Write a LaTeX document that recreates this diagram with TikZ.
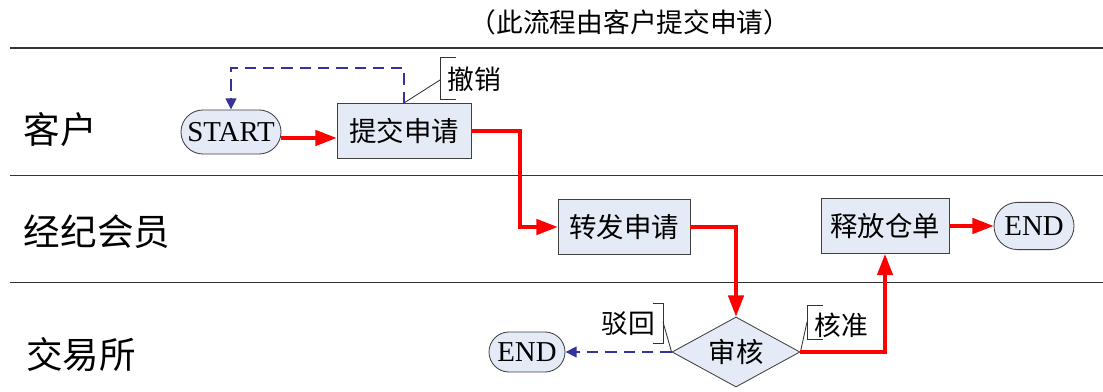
\documentclass[tikz,border=0pt]{standalone}
\usepackage{fontspec}
\setmainfont{Liberation Serif}
\newfontfamily\cjk{Noto Sans CJK SC}
\usetikzlibrary{arrows.meta,shapes.geometric,shapes.misc,positioning}

\definecolor{boxfill}{RGB}{228,235,246}
\definecolor{backblue}{RGB}{51,51,153}

\tikzset{
	box/.style={draw=black!75, fill=boxfill, line width=0.6pt, inner sep=0pt,
		minimum width=3.35cm, minimum height=1.38cm, font=\cjk\fontsize{19.5}{19.5}\selectfont},
	term/.style={draw=black!75, fill=boxfill, line width=0.6pt, rounded rectangle, inner sep=0pt,
		minimum height=1.1cm, font=\fontsize{20.5}{20.5}\selectfont},
	check/.style={draw=black!75, fill=boxfill, line width=0.6pt, diamond, aspect=1.8, inner sep=0pt,
		minimum width=3.2cm, minimum height=1.75cm, font=\cjk\fontsize{19.5}{19.5}\selectfont},
	lane/.style={font=\cjk\fontsize{26}{26}\selectfont},
	note/.style={font=\cjk\fontsize{19}{19}\selectfont},
	go/.style={draw=red, line width=2.2pt, -{Triangle[length=15pt,width=11pt]}},
	back/.style={draw=backblue, line width=1.9pt, dash pattern=on 8pt off 5pt,
		-{Triangle[length=8pt,width=7.5pt]}},
	bracket/.style={draw=black!80, line width=0.6pt}
}

\begin{document}
\begin{tikzpicture}[x=0.025cm,y=-0.025cm]
\useasboundingbox (0,0) rectangle (1103,392);

% swim lanes
\draw[black!80, line width=0.8pt] (10,48) -- (1103,48);
\draw[black!80, line width=0.6pt] (10,175) -- (1103,175);
\draw[black!80, line width=0.6pt] (10,282) -- (1103,282);
\node[note, font=\cjk\fontsize{19}{19}\selectfont] (title) at (630,22) {（此流程由客户提交申请）};
\node[lane] (client) at (60,130) {客户};
\node[lane] (broker) at (97,232) {经纪会员};
\node[lane] (exch) at (81,355) {交易所};

% nodes
\node[term, minimum width=2.5cm] (start) at (231,132) {START};
\node[box] (submit) at (404,131) {提交申请};
\node[box, minimum width=3.3cm] (forward) at (624,227) {转发申请};
\node[check] (audit) at (736,352) {审核};
\node[box, minimum width=3.2cm] (release) at (885,226) {释放仓单};
\node[term, minimum width=2cm, minimum height=1.18cm] (end1) at (1034,226) {END};
\node[term, minimum width=1.9cm, minimum height=1cm] (end2) at (527,352) {END};

% notes
\node[note] (cancel) at (474,79) {撤销};
\node[note] (reject) at (628,324) {驳回};
\node[note] (approve) at (841,325) {核准};
\coordinate (cancelmark) at (440,80);
\coordinate (rejectmark) at (663,322);
\coordinate (approvemark) at (807,322);
\draw[bracket] (456,57) -- (440,57) -- (440,99) -- (456,99);
\draw[bracket] (653,303) -- (663,303) -- (663,343) -- (653,343);
\draw[bracket] (823,305) -- (807,305) -- (807,339) -- (823,339);
\draw[bracket] (submit.north) -- (cancelmark);
\draw[bracket] (rejectmark) -- (audit.west);
\draw[bracket] (approvemark) -- (audit.east);

% flow
\draw[back] (submit.north) |- (231,68) -- (start.north);
\draw[go] ([yshift=-0.15cm]start.east) -- ([yshift=-0.15cm]submit.west |- start.east);
\draw[go] (submit.east) -| (520,227) -- (forward.west);
\draw[go] (forward.east) -| (audit.north);
\draw[go] (audit.east) -| (release.south);
\draw[go] (release.east) -- (end1.west);
\draw[back] (audit.west) -- (end2.east);
\end{tikzpicture}
\end{document}
